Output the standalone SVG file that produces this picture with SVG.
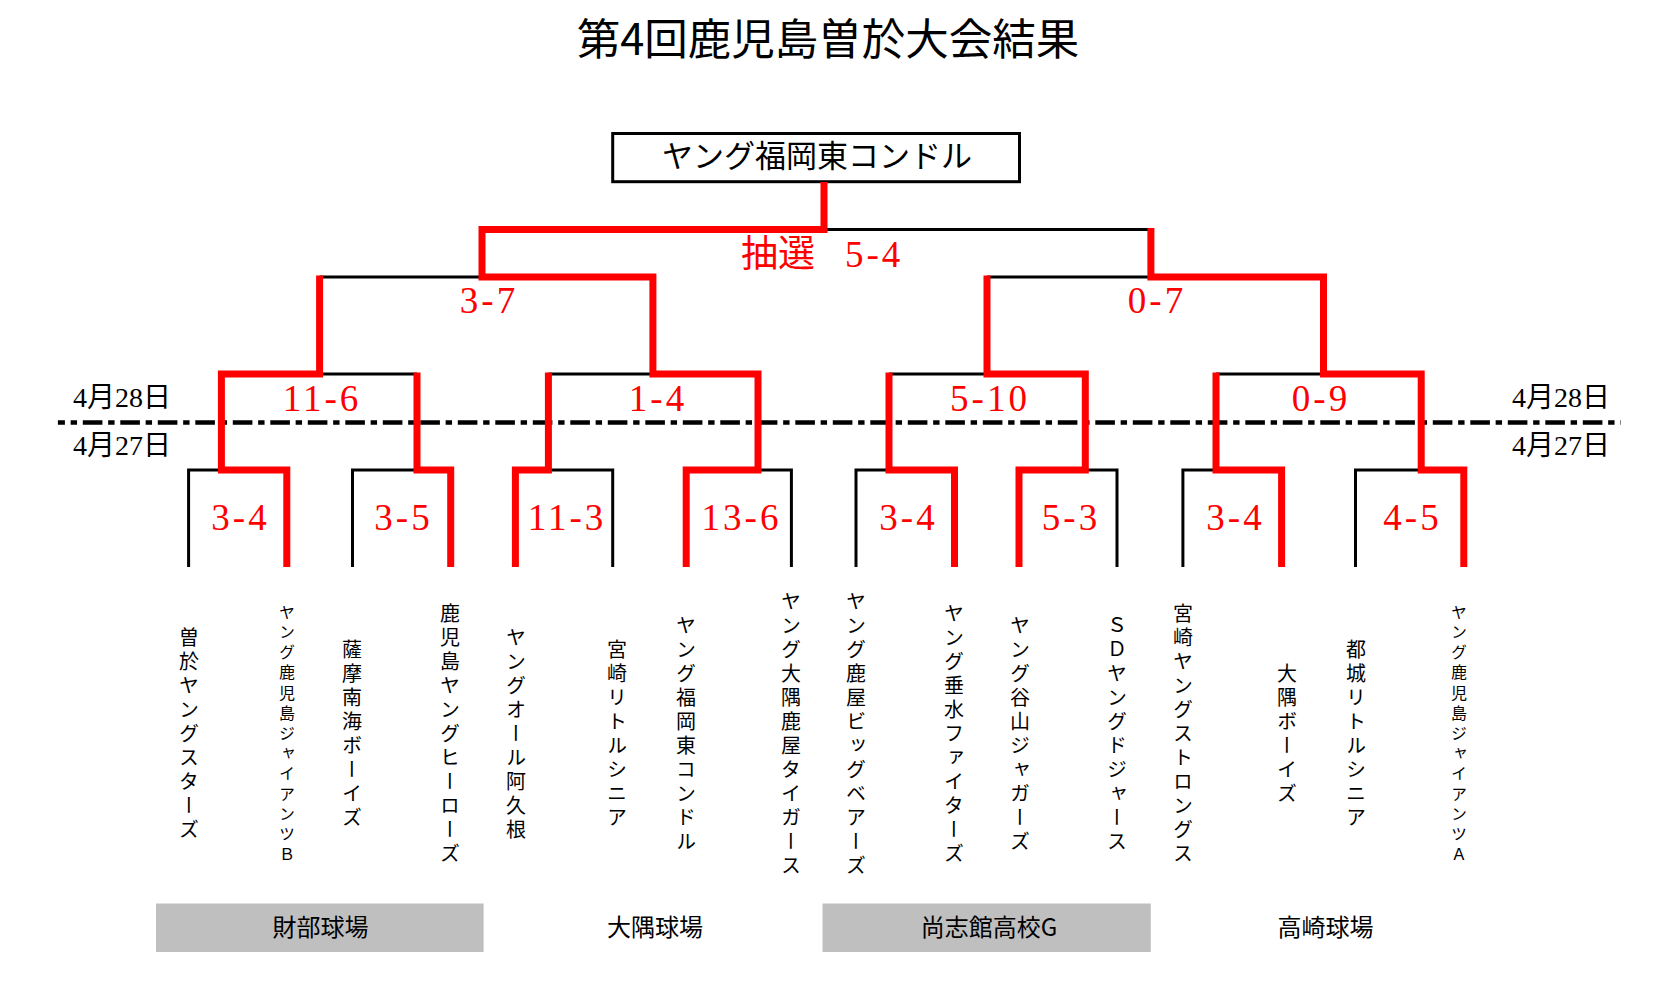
<svg xmlns="http://www.w3.org/2000/svg" width="1677" height="989" viewBox="0 0 1677 989">
<style>
.blk{fill:none;stroke:#000;stroke-width:3;stroke-linejoin:miter}
.red{fill:none;stroke:#ff0000;stroke-width:7;stroke-linejoin:miter;stroke-linecap:butt}
.score{font-family:"Liberation Serif","Noto Sans CJK JP",serif;font-size:37px;fill:#ff0000;letter-spacing:3px;text-anchor:middle}
.date{font-family:"Liberation Serif","Noto Sans CJK JP",serif;font-size:28px;fill:#000;text-anchor:middle}
.team{font-family:"Noto Sans CJK JP",sans-serif;font-size:20px;fill:#000;writing-mode:vertical-rl;text-anchor:middle;letter-spacing:4px}
.team.sm{font-size:16px;letter-spacing:4.2px}
.venue{font-family:"Noto Sans CJK JP",sans-serif;font-size:24px;fill:#000;text-anchor:middle}
</style>
<rect width="1677" height="989" fill="#fff"/>
<g id="title">
<text x="828" y="55" font-family="Noto Sans CJK JP, sans-serif" font-size="43.5" text-anchor="middle">第4回鹿児島曽於大会結果</text>
</g>
<g id="champion">
<rect x="612.7" y="133.5" width="406.8" height="48.2" fill="#fff" stroke="#000" stroke-width="3"/>
<text x="817" y="167" font-family="Noto Sans CJK JP, sans-serif" font-size="31" text-anchor="middle">ヤング福岡東コンドル</text>
</g>
<g id="dateline">
<line x1="57.9" y1="422.5" x2="1620.8" y2="422.5" stroke="#000" stroke-width="4.5" stroke-dasharray="19.6 5.75 6.4 5.75" stroke-dashoffset="12.6"/>
</g>
<g id="connectors">
<path class="blk" d="M482,229.5 H1150.9 M319.6,277 H652.9 M987,277 H1323.5 M221.4,374 H417 M548.4,374 H758 M889,374 H1085.3 M1216,374 H1421.2"/>
<path class="blk" d="M188.6,567 V470 H286.8 V567 M352.5,567 V470 H450.7 V567 M515.4,567 V470 H612.7 V567 M686.2,567 V470 H791.4 V567 M856,567 V470 H954.5 V567 M1019,567 V470 H1117 V567 M1182.9,567 V470 H1281.6 V567 M1355.5,567 V470 H1463.8 V567"/>
<path class="red" d="M286.8,567 V470 H221.4 V374 H319.6 V275.5"/>
<path class="red" d="M450.7,567 V470 H417 V372.5"/>
<path class="red" d="M515.4,567 V470 H548.4 V372.5"/>
<path class="red" d="M686.2,567 V470 H758 V374 H652.9 V277 H482 V229.5 H824 V182"/>
<path class="red" d="M954.5,567 V470 H889 V372.5"/>
<path class="red" d="M1019,567 V470 H1085.3 V374 H987 V275.5"/>
<path class="red" d="M1281.6,567 V470 H1216 V372.5"/>
<path class="red" d="M1463.8,567 V470 H1421.2 V374 H1323.5 V277 H1150.9 V228"/>
</g>
<g id="scores">
<text class="score" x="741" y="267" style="text-anchor:start;letter-spacing:0">抽選 <tspan x="845" style="letter-spacing:3px">5-4</tspan></text>
<text class="score" x="489" y="313">3-7</text>
<text class="score" x="1157" y="313">0-7</text>
<text class="score" x="322" y="410.5">11-6</text>
<text class="score" x="658" y="410.5">1-4</text>
<text class="score" x="990" y="410.5">5-10</text>
<text class="score" x="1321" y="410.5">0-9</text>
<text class="score" x="240.5" y="530">3-4</text>
<text class="score" x="403.5" y="530">3-5</text>
<text class="score" x="567" y="530">11-3</text>
<text class="score" x="741.5" y="530">13-6</text>
<text class="score" x="908.5" y="530">3-4</text>
<text class="score" x="1071" y="530">5-3</text>
<text class="score" x="1235.5" y="530">3-4</text>
<text class="score" x="1412.5" y="530">4-5</text>
</g>
<g id="dates">
<text class="date" x="122" y="407">4月28日</text>
<text class="date" x="122" y="455">4月27日</text>
<text class="date" x="1561" y="407">4月28日</text>
<text class="date" x="1561" y="455">4月27日</text>
</g>
<g id="teams">
<g id="team01"><text class="team" x="189" y="735">曽於ヤングスターズ</text></g>
<g id="team02"><text class="team sm" x="287" y="735">ヤング鹿児島ジャイアンツＢ</text></g>
<g id="team03"><text class="team" x="352" y="735">薩摩南海ボーイズ</text></g>
<g id="team04"><text class="team" x="450" y="735">鹿児島ヤングヒーローズ</text></g>
<g id="team05"><text class="team" x="516" y="735">ヤングオール阿久根</text></g>
<g id="team06"><text class="team" x="617" y="735">宮崎リトルシニア</text></g>
<g id="team07"><text class="team" x="686" y="735">ヤング福岡東コンドル</text></g>
<g id="team08"><text class="team" x="791" y="735">ヤング大隅鹿屋タイガース</text></g>
<g id="team09"><text class="team" x="856" y="735">ヤング鹿屋ビッグベアーズ</text></g>
<g id="team10"><text class="team" x="954" y="735">ヤング垂水ファイターズ</text></g>
<g id="team11"><text class="team" x="1020" y="735">ヤング谷山ジャガーズ</text></g>
<g id="team12"><text class="team" x="1117" y="735">ＳＤヤングドジャース</text></g>
<g id="team13"><text class="team" x="1183" y="735">宮崎ヤングストロングス</text></g>
<g id="team14"><text class="team" x="1287" y="735">大隅ボーイズ</text></g>
<g id="team15"><text class="team" x="1356" y="735">都城リトルシニア</text></g>
<g id="team16"><text class="team sm" x="1459" y="735">ヤング鹿児島ジャイアンツＡ</text></g>
</g>
<g id="venues">
<rect x="156" y="903.5" width="327.6" height="48.5" fill="#bfbfbf"/>
<rect x="822.5" y="903.5" width="328.3" height="48.5" fill="#bfbfbf"/>
<text class="venue" x="320.5" y="936">財部球場</text>
<text class="venue" x="655" y="936">大隅球場</text>
<text class="venue" x="989" y="936">尚志館高校G</text>
<text class="venue" x="1325.5" y="936">高崎球場</text>
</g>
</svg>
